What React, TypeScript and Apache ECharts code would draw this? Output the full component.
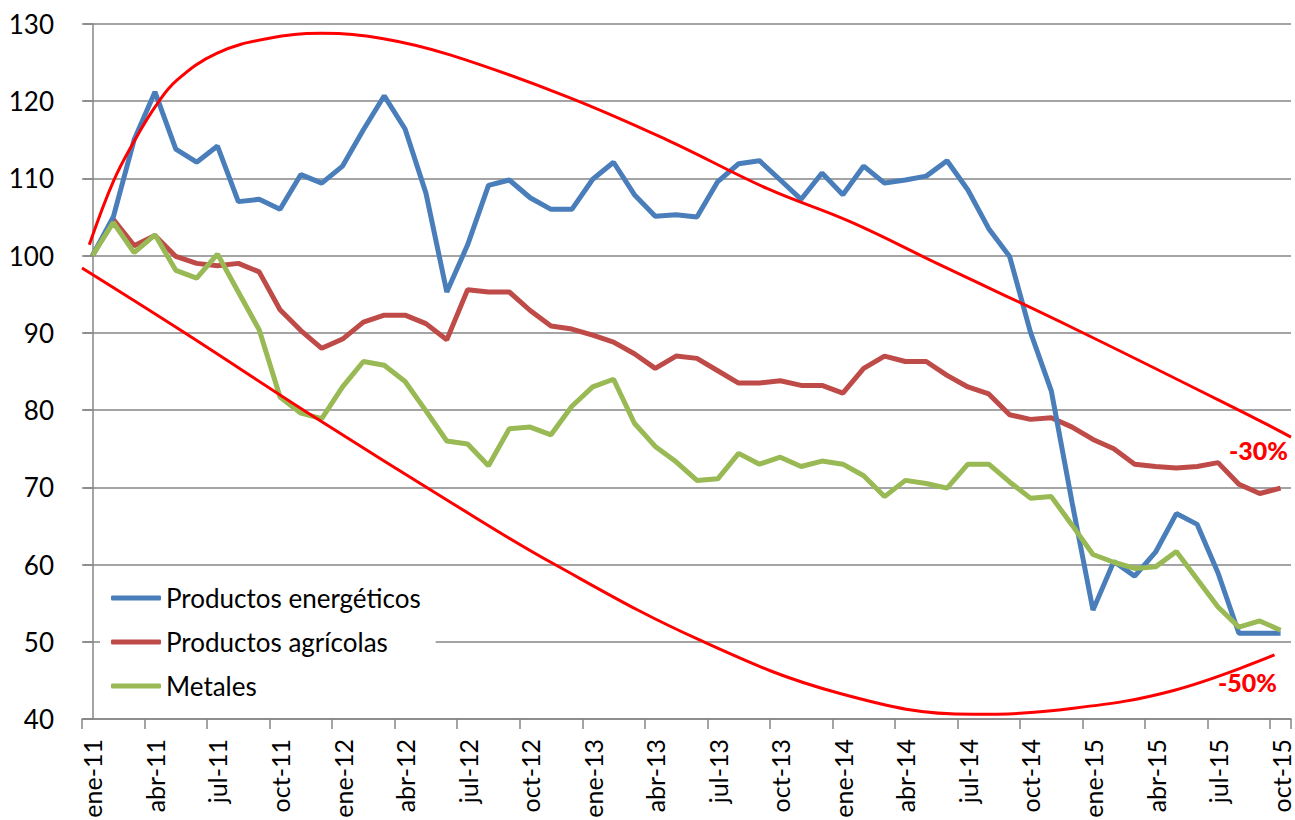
import React, { useEffect, useRef } from "react";
import * as echarts from "echarts";

const monthNames = ["ene", "feb", "mar", "abr", "may", "jun", "jul", "ago", "sep", "oct", "nov", "dic"];
const years = ["11", "12", "13", "14", "15"];
const categories: string[] = [];
years.forEach((y) => monthNames.forEach((m) => categories.push(`${m}-${y}`)));
categories.splice(58);

const energeticos = [100, 105, 115, 121.2, 113.8, 112.1, 114.2, 107, 107.3, 106, 110.5, 109.4, 111.6, 116.3, 120.7, 116.4, 108.1, 95.3, 101.4, 109.1, 109.8, 107.5, 106, 106, 109.9, 112.1, 107.9, 105.1, 105.3, 105, 109.6, 111.9, 112.3, 109.8, 107.3, 110.7, 107.9, 111.6, 109.4, 109.8, 110.3, 112.3, 108.5, 103.5, 99.9, 90.1, 82.5, 68, 54.1, 60.4, 58.5, 61.6, 66.6, 65.2, 58.9, 51.1, 51.1, 51.1];
const agricolas = [100, 104.7, 101.3, 102.6, 99.9, 99, 98.7, 99, 97.9, 93, 90.3, 88, 89.2, 91.4, 92.3, 92.3, 91.2, 89.1, 95.6, 95.3, 95.3, 92.9, 90.9, 90.5, 89.7, 88.8, 87.3, 85.4, 87, 86.7, 85.1, 83.5, 83.5, 83.8, 83.2, 83.2, 82.2, 85.4, 87, 86.3, 86.3, 84.5, 83, 82.1, 79.4, 78.8, 79, 77.8, 76.2, 75, 73, 72.7, 72.5, 72.7, 73.2, 70.4, 69.2, 69.9];
const metales = [100, 104.3, 100.4, 102.7, 98.1, 97.1, 100.2, 95.3, 90.4, 81.7, 79.6, 78.9, 83, 86.3, 85.8, 83.7, 79.9, 76, 75.6, 72.8, 77.6, 77.8, 76.8, 80.5, 83, 84, 78.3, 75.3, 73.3, 70.9, 71.1, 74.4, 73, 73.9, 72.7, 73.4, 73, 71.5, 68.8, 70.9, 70.5, 69.9, 73, 73, 70.7, 68.6, 68.8, 65.1, 61.3, 60.3, 59.5, 59.7, 61.7, 58.1, 54.5, 51.9, 52.7, 51.5];

// Hand-drawn envelope curves: [category position, value]
const upperCurve = [[-0.15, 101.4], [1.0, 109.6], [2.04, 115.0], [3.04, 119.4], [4.04, 122.7], [5.96, 126.2], [8.36, 128.1], [11.0, 128.8], [13.96, 128.1], [17.16, 126.0], [22.76, 120.6], [27.56, 115.0], [32.36, 108.7], [36.35, 104.4], [40.67, 98.8], [47.07, 90.6], [55.87, 78.8], [57.5, 76.5]];
const lowerCurve = [[-0.5, 98.4], [4.2, 90.4], [10.76, 78.9], [17.16, 68.1], [22.12, 60.1], [29.15, 50.2], [35.87, 43.3], [42.27, 40.6], [47.07, 41.4], [51.87, 43.7], [56.71, 48.3]];

const yTicks = { min: 40, max: 130, interval: 10 };
const upperLabel = "-30%";
const lowerLabel = "-50%";

const FONT = "Lato";

export default function App() {
  const ref = useRef<HTMLDivElement>(null);
  useEffect(() => {
    if (!ref.current) return;
    const chart = echarts.init(ref.current, undefined, { renderer: "svg" });
    const gray = "#868686";
    chart.setOption({
      animation: false,
      backgroundColor: "#fff",
      grid: { left: 82, right: 4, top: 24, bottom: 101, containLabel: false, outerBoundsMode: "none" },
      legend: {
        orient: "vertical",
        left: 100,
        top: 579,
        backgroundColor: "#fff",
        padding: [6, 15, 6, 11],
        itemGap: 18,
        itemWidth: 50,
        itemHeight: 5,
        icon: "roundRect",
        textStyle: { fontFamily: FONT, fontSize: 26, color: "#000", padding: [0, 0, 0, 0] },
        data: ["Productos energéticos", "Productos agrícolas", "Metales"],
      },
      xAxis: [
        {
          type: "category",
          data: categories,
          boundaryGap: true,
          axisLine: { lineStyle: { color: gray, width: 1.5 } },
          axisTick: { show: true, interval: 2, length: 10, lineStyle: { color: gray, width: 1.5 } },
          axisLabel: { interval: 2, rotate: 90, margin: 20, fontFamily: FONT, fontSize: 25, color: "#000" },
          splitLine: { show: false },
        },
        { type: "value", min: -0.5, max: 57.5, show: false },
      ],
      yAxis: {
        type: "value",
        min: yTicks.min,
        max: yTicks.max,
        interval: yTicks.interval,
        axisLine: { show: true, lineStyle: { color: gray, width: 1.5 } },
        axisTick: { show: true, length: 9, lineStyle: { color: gray, width: 1.5 } },
        axisLabel: { margin: 28, fontFamily: FONT, fontSize: 26, color: "#000" },
        splitLine: { show: true, lineStyle: { color: gray, width: 1.5 } },
      },
      series: [
        { name: "Productos energéticos", type: "line", data: energeticos, symbol: "none", lineStyle: { color: "#4A7EBB", width: 5 }, itemStyle: { color: "#4A7EBB" }, z: 3 },
        { name: "Productos agrícolas", type: "line", data: agricolas, symbol: "none", lineStyle: { color: "#BE4B48", width: 5 }, itemStyle: { color: "#BE4B48" }, z: 2 },
        { name: "Metales", type: "line", data: metales, symbol: "none", lineStyle: { color: "#98B954", width: 5 }, itemStyle: { color: "#98B954" }, z: 4 },
        { name: "upper", type: "line", xAxisIndex: 1, data: upperCurve, smooth: 0.4, symbol: "none", lineStyle: { color: "#FF0000", width: 3 }, z: 5 },
        { name: "lower", type: "line", xAxisIndex: 1, data: lowerCurve, smooth: 0.4, symbol: "none", lineStyle: { color: "#FF0000", width: 3 }, z: 5 },
      ],
      graphic: [
        { type: "text", left: 1229, top: 437, style: { text: upperLabel, fill: "#FF0000", font: `900 25px ${FONT}` }, z: 10 },
        { type: "text", left: 1218, top: 669, style: { text: lowerLabel, fill: "#FF0000", font: `900 25px ${FONT}` }, z: 10 },
      ],
    });
    return () => chart.dispose();
  }, []);
  return <div ref={ref} style={{ position: "fixed", left: 0, top: 0, width: 1295, height: 820 }} />;
}
